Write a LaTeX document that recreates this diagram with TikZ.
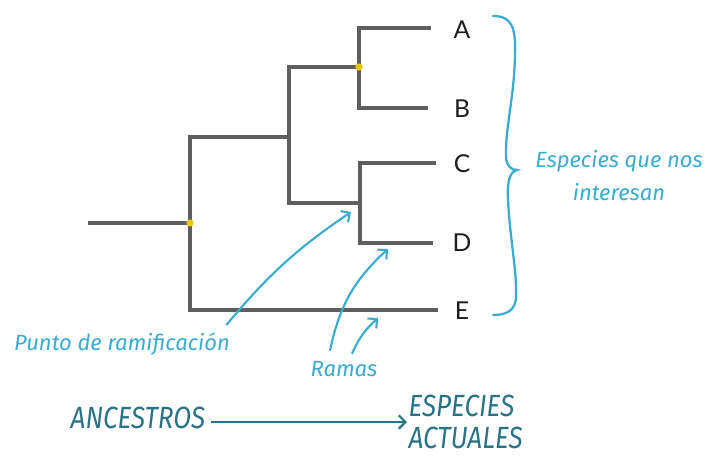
\documentclass[tikz,border=0pt]{standalone}
\usepackage{fontspec}
\setmainfont{Lato}
\newfontfamily\handfont{Fira Sans}
\newfontfamily\handcaps[FakeStretch=0.85]{Fira Sans}
\usetikzlibrary{arrows.meta, positioning}
\definecolor{branchgray}{HTML}{5E5E5E}
\definecolor{leafink}{HTML}{1E1E1E}
\definecolor{notecyan}{HTML}{3AACD0}
\definecolor{timeteal}{HTML}{2A7387}
\definecolor{nodegold}{HTML}{E9C400}
\tikzset{
  branch/.style={draw=branchgray, line width=2.4pt},
  knot/.style={circle, fill=nodegold, inner sep=0pt, minimum size=5.5pt},
  leaf/.style={text=leafink, font=\fontsize{18.5}{20}\selectfont, inner sep=0pt},
  note/.style={text=notecyan, font=\handfont\itshape\fontsize{16.5}{24.75}\selectfont, align=center, inner sep=1pt},
  ptr/.style={draw=notecyan, line width=1.6pt, -{Straight Barb[length=5pt, width=10pt]}},
  grp/.style={draw=notecyan, line width=1.7pt, line cap=round},
  era/.style={text=timeteal, font=\handcaps\itshape\fontsize{23}{24}\selectfont, align=left, inner sep=1pt},
  timeline/.style={draw=timeteal, line width=1.7pt, -{Straight Barb[length=5pt, width=10pt]}},
}

\begin{document}
\begin{tikzpicture}[x=0.75pt, y=-0.75pt]
\useasboundingbox (0,0) rectangle (705,455);

% tree
\coordinate (root) at (88,223);
\coordinate (abcd) at (289,137);
\coordinate (cd)   at (360,203);
\coordinate (tA) at (431,28);
\coordinate (tB) at (428,108);
\coordinate (tC) at (436,163);
\coordinate (tD) at (433,243);
\coordinate (tE) at (438,310);

\node[leaf] (A) at (462,30)  {A};
\node[leaf] (B) at (462,109) {B};
\node[leaf] (C) at (462,164) {C};
\node[leaf] (D) at (462,243) {D};
\node[leaf] (E) at (462,311) {E};

\draw[branch] (root) -- (190,223) coordinate (anc);
\draw[branch] (anc) |- (abcd);
\draw[branch] (anc) |- (tE);
\draw[branch] (abcd) |- (359,67) coordinate (ab);
\draw[branch] (abcd) |- (cd);
\draw[branch] (ab) |- (tA);
\draw[branch] (ab) |- (tB);
\draw[branch] (cd) |- (tC);
\draw[branch] (cd) |- (tD);

\node[knot] (k1) at (anc) {};
\node[knot] (k2) at (ab) {};

% brace
\draw[grp] (493,16) .. controls (511,16) and (516,26) .. (515,55)
  .. controls (514,100) and (505,128) .. (506,158)
  .. controls (507,166) and (511,170) .. (517,170)
  .. controls (510,172) and (507,180) .. (508,200)
  .. controls (510,240) and (517,270) .. (516,298)
  .. controls (515,311) and (506,315) .. (493,315);
\node[note] (grupo) at (619,176) {Especies que nos\\interesan};

% notes
\node[note] (punto) at (122,344) {Punto de ramificación};
\node[note] (ramas) at (344,369) {Ramas};
\draw[ptr] ([shift={(-5,-19)}]punto.east) to[bend left=8] ([shift={(-9,9)}]cd);
\draw[ptr] ([shift={(-14,-9)}]ramas.north) to[bend left=18] ([shift={(-45,6)}]tD);
\draw[ptr] ([shift={(8,-6)}]ramas.north) to[bend left=12] ([shift={(-60,8)}]tE);

% time axis
\node[era] (ancestros) at (138,418) {ANCESTROS};
\node[era, anchor=west] (actuales) at (407,422) {ESPECIES\\ACTUALES};
\draw[timeline] (ancestros.east) ++(4,4) coordinate (t0) -- (t0 -| actuales.west);
\end{tikzpicture}
\end{document}
